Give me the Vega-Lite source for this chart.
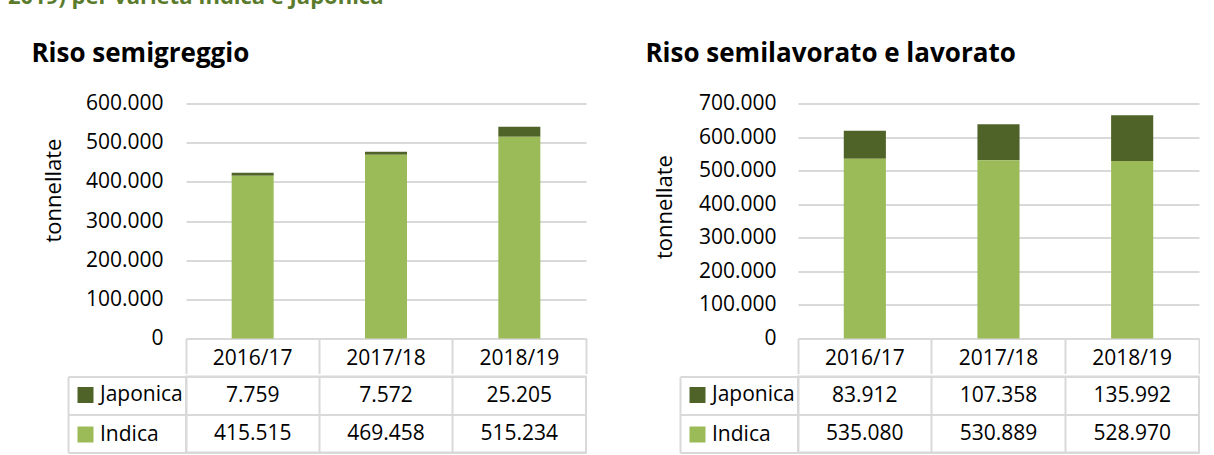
{
  "$schema": "https://vega.github.io/schema/vega-lite/v6.json",
  "background": "white",
  "padding": {"left": 8, "top": -14.5, "right": 0, "bottom": 0},
  "title": {"text": "2019) per varietà Indica e Japonica", "anchor": "start", "frame": "group", "fontSize": 22, "fontWeight": "bold", "font": "Open Sans", "color": "#5B7B2C", "offset": 31.5, "dx": -178},
  "config": {
    "locale": {"number": {"decimal": ",", "thousands": ".", "grouping": [3], "currency": ["", " €"]}},
    "font": "Open Sans",
    "view": {"stroke": null},
    "axis": {"labelFont": "Open Sans", "titleFont": "Open Sans", "labelColor": "#000", "titleColor": "#000"},
    "legend": {"labelFont": "Open Sans", "labelColor": "#000"}
  },
  "datasets": {
    "semi": [
      {"anno": "2016/17", "varieta": "Japonica", "tonnellate": 7759},
      {"anno": "2016/17", "varieta": "Indica", "tonnellate": 415515},
      {"anno": "2017/18", "varieta": "Japonica", "tonnellate": 7572},
      {"anno": "2017/18", "varieta": "Indica", "tonnellate": 469458},
      {"anno": "2018/19", "varieta": "Japonica", "tonnellate": 25205},
      {"anno": "2018/19", "varieta": "Indica", "tonnellate": 515234}
    ],
    "lav": [
      {"anno": "2016/17", "varieta": "Japonica", "tonnellate": 83912},
      {"anno": "2016/17", "varieta": "Indica", "tonnellate": 535080},
      {"anno": "2017/18", "varieta": "Japonica", "tonnellate": 107358},
      {"anno": "2017/18", "varieta": "Indica", "tonnellate": 530889},
      {"anno": "2018/19", "varieta": "Japonica", "tonnellate": 135992},
      {"anno": "2018/19", "varieta": "Indica", "tonnellate": 528970}
    ]
  },
  "spacing": 58,
  "resolve": {"scale": {"color": "independent"}, "legend": {"color": "independent"}},
  "hconcat": [
    {
      "spacing": 0,
      "resolve": {"scale": {"color": "independent"}, "legend": {"color": "independent"}},
      "vconcat": [
        {
          "data": {"name": "semi"},
          "width": 400,
          "height": 235,
          "title": {"text": "Riso semigreggio", "anchor": "start", "frame": "bounds", "fontSize": 26, "fontWeight": "bold", "font": "Open Sans", "color": "#000", "offset": 26, "dx": -11},
          "mark": {"type": "bar", "width": {"band": 0.315}},
          "encoding": {
            "x": {"field": "anno", "type": "nominal", "sort": null, "scale": {"type": "band", "paddingInner": 0, "paddingOuter": 0},
              "axis": {"title": null, "orient": "bottom", "domainColor": "#d9d9d9", "domainWidth": 2, "tickColor": "#d9d9d9", "tickWidth": 2, "tickSize": 35, "bandPosition": 1, "tickExtra": true, "labelAngle": 0, "labelFontSize": 21, "labelPadding": -15, "labelBaseline": "middle", "grid": false}},
            "y": {"field": "tonnellate", "type": "quantitative", "stack": "zero", "scale": {"domain": [0, 600000], "nice": false},
              "axis": {"values": [0, 100000, 200000, 300000, 400000, 500000, 600000], "format": ",.0f", "domain": false, "ticks": false, "grid": true, "gridColor": "#d9d9d9", "gridWidth": 2, "labelFontSize": 21, "labelPadding": 23, "title": "tonnellate", "titleFontSize": 22, "titleFontWeight": "normal", "titlePadding": 20, "titleY": 86.5}},
            "color": {"field": "varieta", "type": "nominal", "scale": {"domain": ["Japonica", "Indica"], "range": ["#4F6228", "#9BBB59"]}, "legend": null},
            "order": {"field": "varieta", "sort": "ascending"}
          }
        },
        {
          "data": {"name": "semi"},
          "width": 400,
          "height": 76,
          "view": {"stroke": "#d9d9d9", "strokeWidth": 2},
          "encoding": {
            "x": {"field": "anno", "type": "nominal", "sort": null, "scale": {"type": "band", "paddingInner": 0, "paddingOuter": 0},
              "axis": {"title": null, "labels": false, "ticks": false, "domain": false, "grid": true, "gridColor": "#d9d9d9", "gridWidth": 2, "bandPosition": 0}},
            "y": {"field": "varieta", "type": "nominal", "scale": {"type": "band", "domain": ["Japonica", "Indica"], "paddingInner": 0, "paddingOuter": 0},
              "axis": {"title": null, "labels": false, "grid": true, "gridColor": "#d9d9d9", "gridWidth": 2, "bandPosition": 1, "tickExtra": true, "offset": 118, "tickSize": -118, "tickColor": "#d9d9d9", "tickWidth": 2, "domainColor": "#d9d9d9", "domainWidth": 2}}
          },
          "layer": [
            {
              "mark": {"type": "text", "fontSize": 21, "color": "#000", "font": "Open Sans"},
              "encoding": {"text": {"field": "tonnellate", "type": "quantitative", "format": ",.0f"}}
            },
            {
              "mark": {"type": "square", "size": 0, "opacity": 1},
              "encoding": {
                "color": {"field": "varieta", "type": "nominal", "scale": {"domain": ["Japonica", "Indica"], "range": ["#4F6228", "#9BBB59"]},
                  "legend": {"orient": "none", "legendX": -111, "legendY": 8, "title": null, "symbolType": "square", "symbolSize": 256, "symbolStrokeWidth": 0, "symbolOpacity": 1, "labelFontSize": 21, "labelOffset": 4, "rowPadding": 17.5, "padding": 0}}
              }
            }
          ]
        }
      ]
    },
    {
      "spacing": 0,
      "resolve": {"scale": {"color": "independent"}, "legend": {"color": "independent"}},
      "vconcat": [
        {
          "data": {"name": "lav"},
          "width": 401,
          "height": 235,
          "title": {"text": "Riso semilavorato e lavorato", "anchor": "start", "frame": "bounds", "fontSize": 26, "fontWeight": "bold", "font": "Open Sans", "color": "#000", "offset": 26, "dx": -8},
          "mark": {"type": "bar", "width": {"band": 0.315}},
          "encoding": {
            "x": {"field": "anno", "type": "nominal", "sort": null, "scale": {"type": "band", "paddingInner": 0, "paddingOuter": 0},
              "axis": {"title": null, "orient": "bottom", "domainColor": "#d9d9d9", "domainWidth": 2, "tickColor": "#d9d9d9", "tickWidth": 2, "tickSize": 35, "bandPosition": 1, "tickExtra": true, "labelAngle": 0, "labelFontSize": 21, "labelPadding": -15, "labelBaseline": "middle", "grid": false}},
            "y": {"field": "tonnellate", "type": "quantitative", "stack": "zero", "scale": {"domain": [0, 700000], "nice": false},
              "axis": {"values": [0, 100000, 200000, 300000, 400000, 500000, 600000, 700000], "format": ",.0f", "domain": false, "ticks": false, "grid": true, "gridColor": "#d9d9d9", "gridWidth": 2, "labelFontSize": 21, "labelPadding": 22, "title": "tonnellate", "titleFontSize": 22, "titleFontWeight": "normal", "titlePadding": 22, "titleY": 103}},
            "color": {"field": "varieta", "type": "nominal", "scale": {"domain": ["Japonica", "Indica"], "range": ["#4F6228", "#9BBB59"]}, "legend": null},
            "order": {"field": "varieta", "sort": "ascending"}
          }
        },
        {
          "data": {"name": "lav"},
          "width": 401,
          "height": 76,
          "view": {"stroke": "#d9d9d9", "strokeWidth": 2},
          "encoding": {
            "x": {"field": "anno", "type": "nominal", "sort": null, "scale": {"type": "band", "paddingInner": 0, "paddingOuter": 0},
              "axis": {"title": null, "labels": false, "ticks": false, "domain": false, "grid": true, "gridColor": "#d9d9d9", "gridWidth": 2, "bandPosition": 0}},
            "y": {"field": "varieta", "type": "nominal", "scale": {"type": "band", "domain": ["Japonica", "Indica"], "paddingInner": 0, "paddingOuter": 0},
              "axis": {"title": null, "labels": false, "grid": true, "gridColor": "#d9d9d9", "gridWidth": 2, "bandPosition": 1, "tickExtra": true, "offset": 118, "tickSize": -118, "tickColor": "#d9d9d9", "tickWidth": 2, "domainColor": "#d9d9d9", "domainWidth": 2}}
          },
          "layer": [
            {
              "mark": {"type": "text", "fontSize": 21, "color": "#000", "font": "Open Sans"},
              "encoding": {"text": {"field": "tonnellate", "type": "quantitative", "format": ",.0f"}}
            },
            {
              "mark": {"type": "square", "size": 0, "opacity": 1},
              "encoding": {
                "color": {"field": "varieta", "type": "nominal", "scale": {"domain": ["Japonica", "Indica"], "range": ["#4F6228", "#9BBB59"]},
                  "legend": {"orient": "none", "legendX": -111, "legendY": 8, "title": null, "symbolType": "square", "symbolSize": 256, "symbolStrokeWidth": 0, "symbolOpacity": 1, "labelFontSize": 21, "labelOffset": 4, "rowPadding": 17.5, "padding": 0}}
              }
            }
          ]
        }
      ]
    }
  ]
}
